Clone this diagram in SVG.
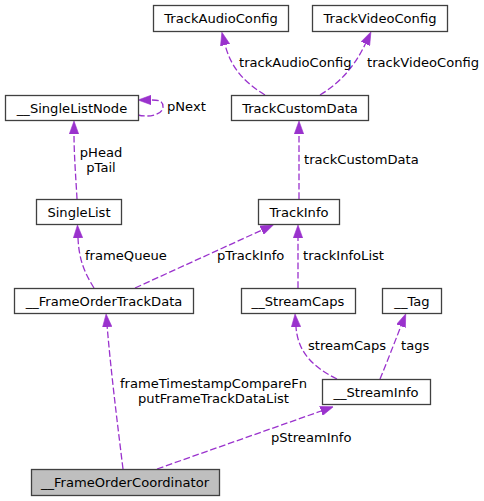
<svg xmlns="http://www.w3.org/2000/svg" width="484" height="501" viewBox="0 0 484 501">
<style>
.box{fill:#ffffff;stroke:#404040;stroke-width:1.3}
.hl{fill:#bfbfbf}
.t{font-family:"DejaVu Sans",sans-serif;font-size:13.1px;fill:#000000}
.m{text-anchor:middle}
.e{fill:none;stroke:#9a32cd;stroke-width:1.3;stroke-dasharray:6.7,2.7}
</style>
<defs>
<marker id="ah" viewBox="0 -5 13 10" refX="0" refY="0" markerWidth="13" markerHeight="10" markerUnits="userSpaceOnUse" orient="auto">
<polygon points="0,-4.7 13,0 0,4.7" fill="#9a32cd" stroke="#9a32cd" stroke-width="0.6"/>
</marker>
</defs>
<rect width="484" height="501" fill="#ffffff"/>
<g id="edges">
<path class="e" marker-end="url(#ah)" d="M265,95 C245,83 231,68 225.1,44.9"/>
<path class="e" marker-end="url(#ah)" d="M320,95 C340,83 355,66 365.4,43.7"/>
<path class="e" marker-end="url(#ah)" d="M138,115 C150,118 163,114 163,107 C163,101 160,100 151,100"/>
<path class="e" marker-end="url(#ah)" d="M77,199 C76,180 74,155 74,134"/>
<path class="e" marker-end="url(#ah)" d="M299,199 L299,134"/>
<path class="e" marker-end="url(#ah)" d="M94,288 C86,275 79,262 78,238"/>
<path class="e" marker-end="url(#ah)" d="M135,288 L261.7,230.2"/>
<path class="e" marker-end="url(#ah)" d="M298,288 L298,238"/>
<path class="e" marker-end="url(#ah)" d="M337,379 C315,368 298,354 296,327"/>
<path class="e" marker-end="url(#ah)" d="M380,379 C387,362 394,344 401,326"/>
<path class="e" marker-end="url(#ah)" d="M123,469 C117,420 111,372 107.2,327"/>
<path class="e" marker-end="url(#ah)" d="M157,469 L321.1,411"/>
<text class="t" x="239" y="66.5">trackAudioConfig</text>
<text class="t" x="367" y="66.5">trackVideoConfig</text>
<text class="t" x="167" y="111">pNext</text>
<text class="t m" x="101" y="156.5">pHead</text>
<text class="t m" x="101" y="171.5">pTail</text>
<text class="t" x="304" y="163.5">trackCustomData</text>
<text class="t" x="85" y="259.5">frameQueue</text>
<text class="t" x="217" y="259.5">pTrackInfo</text>
<text class="t" x="303" y="259.5">trackInfoList</text>
<text class="t" x="308" y="349.5">streamCaps</text>
<text class="t" x="401" y="349.5">tags</text>
<text class="t m" x="213.5" y="387.5">frameTimestampCompareFn</text>
<text class="t m" x="213.5" y="402.5">putFrameTrackDataList</text>
<text class="t" x="271" y="441.5">pStreamInfo</text>
</g>
<g id="TrackAudioConfig"><rect class="box" x="153.5" y="5.5" width="135" height="26"/><text class="t m" x="221" y="22.5">TrackAudioConfig</text></g>
<g id="TrackVideoConfig"><rect class="box" x="312.5" y="5.5" width="135" height="26"/><text class="t m" x="380" y="22.5">TrackVideoConfig</text></g>
<g id="SingleListNode"><rect class="box" x="5.5" y="95.5" width="133" height="25"/><text class="t m" x="72" y="112.5">__SingleListNode</text></g>
<g id="TrackCustomData"><rect class="box" x="231.5" y="95.5" width="137" height="25"/><text class="t m" x="300" y="112.5">TrackCustomData</text></g>
<g id="SingleList"><rect class="box" x="36.5" y="199.5" width="85" height="25"/><text class="t m" x="79" y="216.5">SingleList</text></g>
<g id="TrackInfo"><rect class="box" x="258.5" y="199.5" width="81" height="25"/><text class="t m" x="299" y="216.5">TrackInfo</text></g>
<g id="FrameOrderTrackData"><rect class="box" x="14.5" y="288.5" width="179" height="25"/><text class="t m" x="104" y="305.5">__FrameOrderTrackData</text></g>
<g id="StreamCaps"><rect class="box" x="241.5" y="288.5" width="114" height="25"/><text class="t m" x="298" y="305.5">__StreamCaps</text></g>
<g id="Tag"><rect class="box" x="382.5" y="288.5" width="59" height="25"/><text class="t m" x="412" y="305.5">__Tag</text></g>
<g id="StreamInfo"><rect class="box" x="322.5" y="379.5" width="108" height="25"/><text class="t m" x="376" y="396.5">__StreamInfo</text></g>
<g id="FrameOrderCoordinator"><rect class="box hl" x="31.5" y="469.5" width="188" height="26"/><text class="t m" x="125" y="486.5">__FrameOrderCoordinator</text></g>
</svg>
